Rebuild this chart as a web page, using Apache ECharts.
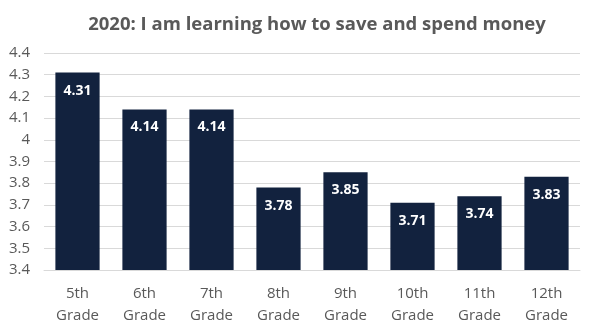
<!DOCTYPE html>
<html>
<head>
<meta charset="utf-8">
<script src="https://cdn.jsdelivr.net/npm/echarts@6/dist/echarts.min.js"></script>
<style>
  html, body { margin: 0; padding: 0; background: #fff; }
  #chart { width: 604px; height: 334px; }
</style>
</head>
<body>
<div id="chart"></div>
<script>
// Average agreement score by grade
const grades = ['5th\nGrade', '6th\nGrade', '7th\nGrade', '8th\nGrade', '9th\nGrade', '10th\nGrade', '11th\nGrade', '12th\nGrade'];
const scores = [4.31, 4.14, 4.14, 3.78, 3.85, 3.71, 3.74, 3.83];
const titleText = '2020: I am learning how to save and spend money';

const chart = echarts.init(document.getElementById('chart'), null, { renderer: 'canvas' });
chart.setOption({
  animation: false,
  title: {
    text: titleText,
    left: 312,
    textAlign: 'center',
    top: 10,
    textStyle: { fontFamily: 'Open Sans', fontSize: 18.5, fontWeight: 'bold', color: '#595959' }
  },
  grid: { left: 44, right: 24, top: 53, bottom: 64 },
  xAxis: {
    type: 'category',
    data: grades,
    axisLine: { show: true, lineStyle: { color: '#d9d9d9' } },
    axisTick: { show: false },
    axisLabel: { color: '#595959', fontFamily: 'Open Sans', fontSize: 15, lineHeight: 22, margin: 13 }
  },
  yAxis: {
    type: 'value',
    min: 3.4,
    max: 4.4,
    interval: 0.1,
    axisLine: { show: false },
    axisTick: { show: false },
    splitLine: { lineStyle: { color: '#d9d9d9' } },
    axisLabel: {
      color: '#595959', fontFamily: 'Open Sans', fontSize: 15, margin: 14,
      formatter: v => String(Math.round(v * 10) / 10)
    }
  },
  series: [{
    type: 'bar',
    data: scores,
    barWidth: '66%',
    itemStyle: { color: '#12223e' },
    label: {
      show: true,
      position: 'insideTop',
      distance: 11,
      color: '#ffffff',
      fontFamily: 'Open Sans',
      fontWeight: 'bold',
      fontSize: 14,
      formatter: p => p.value.toFixed(2)
    }
  }]
});
</script>
</body>
</html>
